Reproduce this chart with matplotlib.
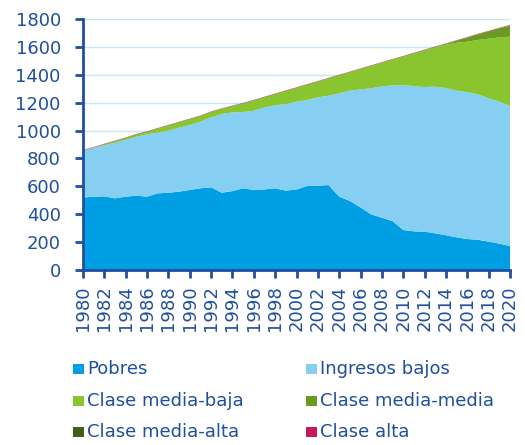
import numpy as np
import matplotlib
matplotlib.use("Agg")
import matplotlib.pyplot as plt
from matplotlib.patches import Rectangle


# ----------------------------------------------------------------------------------------------------------
# DATA (millions of people)
# ----------------------------------------------------------------------------------------------------------

years = np.arange(1980, 2021)

pobres = [519, 526, 528, 514, 526, 533, 526, 550, 554, 562,
          574, 586, 593, 554, 566, 586, 574, 578, 586, 569,
          578, 602, 605, 609, 526, 495, 449, 399, 375, 351,
          287, 277, 275, 263, 249, 234, 222, 217, 203, 189, 172]

ingresos_bajos = [337, 351, 366, 399, 406, 423, 447, 435, 445, 459,
                  466, 478, 502, 565, 564, 547, 568, 588, 595, 621,
                  629, 617, 633, 641, 741, 791, 846, 904, 942, 973,
                  1039, 1042, 1037, 1052, 1056, 1052, 1054, 1043, 1028, 1018, 1004]

media_baja = [0, 1, 7, 11, 14, 16, 18, 29, 37, 38,
              41, 40, 38, 36, 45, 61, 74, 73, 80, 94,
              99, 110, 113, 124, 129, 133, 146, 161, 169, 185,
              205, 235, 264, 284, 311, 344, 361, 390, 428, 461, 497]

media_media = [0, 0, 0, 0, 0, 0, 0, 0, 0, 0,
               0, 0, 0, 0, 0, 0, 0, 0, 0, 0,
               0, 0, 0, 0, 0, 0, 0, 0, 0, 0,
               0, 0, 0, 0, 5, 14, 29, 40, 52, 65, 80]

media_alta = [2, 2, 2, 2, 2, 2, 2, 2, 2, 2,
              2, 2, 2, 2, 2, 2, 2, 2, 2, 2,
              2, 2, 2, 2, 2, 2, 2, 2, 2, 2,
              2, 2, 2, 2, 2, 2, 2, 2, 2, 2, 2]

alta = [2, 2, 2, 2, 2, 2, 2, 2, 2, 2,
        2, 2, 2, 2, 2, 2, 2, 2, 2, 2,
        2, 2, 2, 2, 2, 2, 2, 2, 2, 2,
        2, 2, 2, 2, 2, 2, 2, 2, 2, 2, 2]

labels = ["Pobres", "Ingresos bajos", "Clase media-baja",
          "Clase media-media", "Clase media-alta", "Clase alta"]
colors = ["#009fe3", "#87cff2", "#88c52e", "#6a9a22", "#445f1c", "#c8175d"]

BLUE = "#1f4f9e"
W, H = 525, 445


def main():
    fig = plt.figure(figsize=(W / 100, H / 100), dpi=100)
    ax = fig.add_axes([83 / W, 175 / H, 427 / W, 251 / H])

    ax.stackplot(years, pobres, ingresos_bajos, media_baja, media_media, media_alta, alta,
                 colors=colors, linewidth=0, antialiased=True)

    ax.set_xlim(1980, 2020)
    ax.set_ylim(0, 1800)
    ax.set_yticks(np.arange(0, 1801, 200))
    ax.set_xticks(np.arange(1980, 2021, 2))
    ax.set_xticklabels([str(y) for y in range(1980, 2021, 2)], rotation=90)

    ax.set_axisbelow(True)
    ax.grid(axis="y", color="#c4e6f6", linewidth=1)

    for side in ("top", "right"):
        ax.spines[side].set_visible(False)
    for side in ("left", "bottom"):
        ax.spines[side].set_color(BLUE)
        ax.spines[side].set_linewidth(2)

    ax.tick_params(axis="y", colors=BLUE, labelsize=13, length=6, width=2, pad=10)
    ax.tick_params(axis="x", colors=BLUE, labelsize=13, length=6, width=2, pad=5)

    # legend, two columns, drawn by hand
    col_x = [73, 306]
    row_y = [369, 401, 432]
    for i, (lab, col) in enumerate(zip(labels, colors)):
        px = col_x[i % 2]
        py = row_y[i // 2]
        fig.add_artist(Rectangle((px / W, 1 - (py + 5) / H), 10.5 / W, 10.5 / H,
                                 transform=fig.transFigure, facecolor=col, edgecolor="none"))
        fig.text((px + 14) / W, 1 - py / H, lab, color=BLUE, fontsize=13, va="center", ha="left")

    fig.savefig("out.png", dpi=100)


if __name__ == "__main__":
    main()
